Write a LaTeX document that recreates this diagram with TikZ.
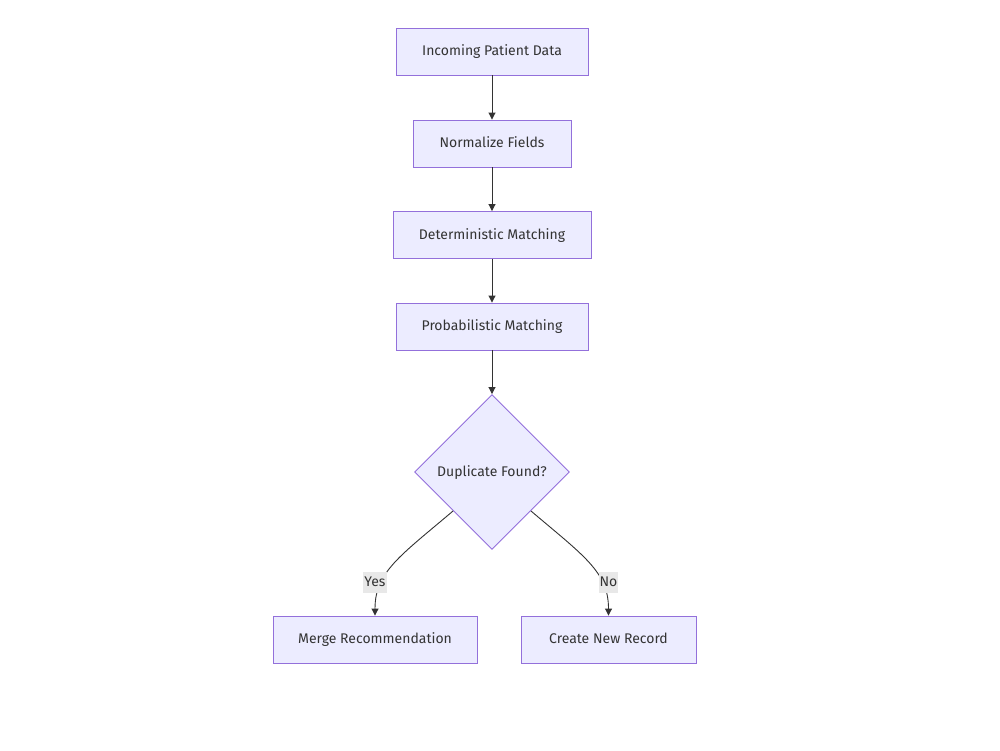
\documentclass[tikz,border=0pt]{standalone}
\usepackage{fontspec}
\setmainfont{Fira Sans}
\usetikzlibrary{shapes.geometric,arrows.meta}
\definecolor{boxfill}{HTML}{ECECFF}
\definecolor{boxline}{HTML}{9370DB}
\definecolor{edgeline}{HTML}{333333}
\definecolor{labelbg}{HTML}{E8E8E8}
\definecolor{textcol}{HTML}{333333}
\begin{document}
\begin{tikzpicture}[x=1pt,y=-1pt,
	stepbox/.style={draw=boxline,fill=boxfill,line width=0.9pt,minimum height=47pt,inner sep=0pt,text height=10pt,text depth=2pt,text=textcol,font=\fontsize{14}{16}\selectfont},
	decision/.style={diamond,draw=boxline,fill=boxfill,line width=0.9pt,minimum width=155pt,minimum height=155pt,inner sep=0pt,text height=10pt,text depth=2pt,text=textcol,font=\fontsize{14}{16}\selectfont},
	flow/.style={draw=edgeline,line width=0.9pt,-{Triangle[length=7pt,width=7pt]}},
	edgelabel/.style={fill=labelbg,text=textcol,inner xsep=1pt,inner ysep=0pt,minimum height=21pt,font=\fontsize{14}{16}\selectfont}]
				\useasboundingbox (0,0) rectangle (1000,750);

				% Pipeline
				\node[stepbox,minimum width=192pt] (incoming) at (492,51.5) {Incoming Patient Data};
				\node[stepbox,minimum width=158pt] (normalize) at (492,143.5) {Normalize Fields};
				\node[stepbox,minimum width=198pt] (determ) at (492,235) {Deterministic Matching};
				\node[stepbox,minimum width=192pt] (prob) at (492,326.5) {Probabilistic Matching};

				% Decision
				\node[decision] (dup) at (492,472) {Duplicate Found?};

				% Outcomes
				\node[stepbox,minimum width=204pt] (merge) at (375,639.5) {Merge Recommendation};
				\node[stepbox,minimum width=175pt] (create) at (608.5,639.5) {Create New Record};

				% Arrows
				\draw[flow] (incoming) -- (normalize);
				\draw[flow] (normalize) -- (determ);
				\draw[flow] (determ) -- (prob);
				\draw[flow] (prob) -- (dup);
				\draw[flow] (dup.south west) .. controls (400,556) and (375,572) .. (merge.north);
				\draw[flow] (dup.south east) .. controls (584,556) and (608.5,572) .. (create.north);

				% Labels
				\node[edgelabel] (yes) at (375,582) {Yes};
				\node[edgelabel] (no) at (608.5,582) {No};
			\end{tikzpicture}
\end{document}
